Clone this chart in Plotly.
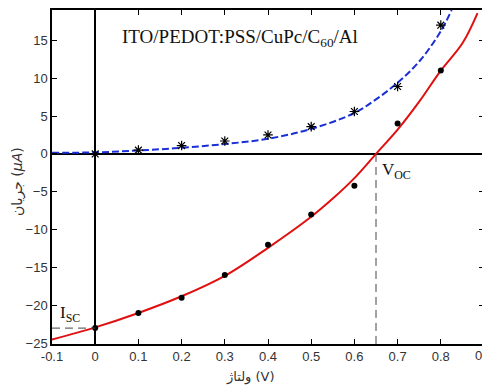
import plotly.graph_objects as go

# measured data
v_pts = [0.0, 0.1, 0.2, 0.3, 0.4, 0.5, 0.6, 0.7, 0.8]
i_light = [-23.0, -21.0, -19.0, -16.0, -12.0, -8.0, -4.2, 4.0, 11.0]
i_dark = [0.0, 0.5, 1.1, 1.7, 2.5, 3.6, 5.6, 8.9, 17.0]

# fitted curves
v_fit_light = [-0.1, 0.0, 0.1, 0.2, 0.3, 0.4, 0.5, 0.55, 0.6, 0.65, 0.7, 0.75, 0.8, 0.85, 0.885]
i_fit_light = [-24.5, -22.9, -21.0, -18.8, -16.1, -12.4, -8.3, -5.9, -3.2, 0.0, 3.2, 6.9, 11.0, 14.6, 18.6]
v_fit_dark = [-0.1, 0.0, 0.1, 0.2, 0.3, 0.4, 0.5, 0.6, 0.65, 0.7, 0.75, 0.8, 0.825]
i_fit_dark = [0.15, 0.2, 0.45, 0.8, 1.3, 2.0, 3.3, 5.4, 7.2, 9.4, 12.2, 16.2, 19.0]

x_ticks = [-0.1, 0, 0.1, 0.2, 0.3, 0.4, 0.5, 0.6, 0.7, 0.8, 0.9]
x_tick_text = ["-0.1", "0", "0.1", "0.2", "0.3", "0.4", "0.5", "0.6", "0.7", "0.8", "0.9"]
y_ticks = [-25, -20, -15, -10, -5, 0, 5, 10, 15]

voc = 0.65
isc = -23.0

# page has an 8px body margin: figure pixel = screen pixel - 8
OFF = 8
W, H = 490 - OFF, 387 - OFF
L, R, T, B = 52 - OFF, 6, 10 - OFF, 43

fig = go.Figure()
fig.add_trace(go.Scatter(x=v_fit_dark, y=i_fit_dark, mode="lines",
                         line=dict(color="#1a2fd6", width=2, dash="7px,3px", shape="spline"),
                         showlegend=False, hoverinfo="skip"))
fig.add_trace(go.Scatter(x=v_fit_light, y=i_fit_light, mode="lines",
                         line=dict(color="#e01010", width=2, shape="spline"),
                         showlegend=False, hoverinfo="skip"))
fig.add_trace(go.Scatter(x=v_pts, y=i_dark, mode="markers",
                         marker=dict(symbol="asterisk-open", size=8, color="black",
                                     line=dict(color="black", width=1.2)),
                         showlegend=False))
fig.add_trace(go.Scatter(x=v_pts, y=i_light, mode="markers",
                         marker=dict(symbol="circle", size=6, color="black"),
                         showlegend=False))
# Voc dashed vertical line
fig.add_trace(go.Scatter(x=[voc, voc], y=[0, -25.1], mode="lines",
                         line=dict(color="#444", width=1, dash="8px,5px"),
                         showlegend=False, hoverinfo="skip"))
# Isc dashed horizontal line
fig.add_trace(go.Scatter(x=[-0.1, 0], y=[isc, isc], mode="lines",
                         line=dict(color="#444", width=1, dash="8px,5px"),
                         showlegend=False, hoverinfo="skip"))

tick_font = dict(family="Arial, Liberation Sans, sans-serif", size=13, color="#333")

fig.update_layout(
    width=W, height=H,
    margin=dict(l=L, r=R, t=T, b=B),
    paper_bgcolor="white", plot_bgcolor="white",
    font=dict(family="Arial, Liberation Sans, sans-serif", size=12, color="#222"),
    xaxis=dict(range=[-0.1, 0.9], tickvals=x_ticks, ticktext=x_tick_text, automargin=False,
               ticks="inside", ticklen=5, tickcolor="black", mirror="ticks",
               showline=True, linecolor="black", linewidth=1.5, showgrid=False,
               zeroline=True, zerolinecolor="black", zerolinewidth=1.5,
               tickfont=tick_font),
    yaxis=dict(range=[-25.1, 19], tickvals=y_ticks, automargin=False,
               ticks="inside", ticklen=5, tickcolor="black", mirror="ticks",
               showline=True, linecolor="black", linewidth=1.5, showgrid=False,
               zeroline=True, zerolinecolor="black", zerolinewidth=1.5,
               tickfont=tick_font),
    annotations=[
        dict(text="ITO/PEDOT:PSS/CuPc/C<sub>60</sub>/Al", x=240, y=38, xref="paper", yref="paper",
             xanchor="center", yanchor="middle",
             showarrow=False, font=dict(family="Liberation Serif, Times New Roman, serif", size=19, color="#111")),
        dict(text="V<sub>OC</sub>", x=voc + 0.01, y=-0.6, xanchor="left", yanchor="top",
             showarrow=False, font=dict(family="Liberation Serif, serif", size=17, color="#111")),
        dict(text="I<sub>SC</sub>", x=-0.085, y=isc + 0.1, xanchor="left", yanchor="bottom",
             showarrow=False, font=dict(family="Liberation Serif, serif", size=17, color="#111")),
        dict(text="ولتاژ (V)", x=250, y=377, xref="paper", yref="paper",
             xanchor="center", yanchor="middle",
             showarrow=False, font=dict(family="DejaVu Sans, sans-serif", size=13, color="#333")),
        dict(text="جریان (<i>μA</i>)", x=18, y=182, xref="paper", yref="paper", textangle=-90,
             xanchor="center", yanchor="middle",
             showarrow=False, font=dict(family="DejaVu Sans, sans-serif", size=14, color="#333")),
        # last tick label, partly cut by the page edge as in the original
        dict(text=x_tick_text[-1], x=x_ticks[-1], y=355, xref="x", yref="paper",
             xanchor="center", yanchor="middle", showarrow=False, font=tick_font),
    ],
)
# convert screen pixel positions to paper coords for the pixel-placed annotations
pw, ph = W - L - R, H - T - B
for a in fig.layout.annotations:
    if a.xref == "paper":
        a.x = (a.x - OFF - L) / pw
    if a.yref == "paper":
        a.y = 1 - (a.y - OFF - T) / ph
fig.write_html("out.html")
